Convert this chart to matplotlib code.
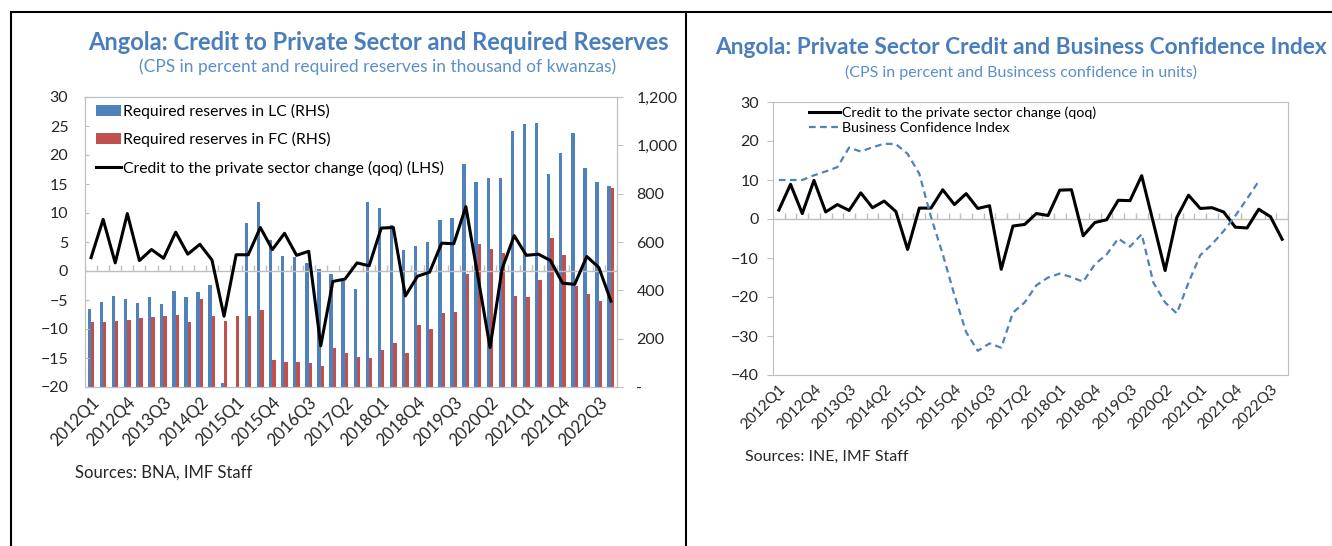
import numpy as np
import matplotlib
matplotlib.use('Agg')
import matplotlib.pyplot as plt
from matplotlib.lines import Line2D
from matplotlib.ticker import FuncFormatter

plt.rcParams['font.family'] = ['Lato', 'DejaVu Sans']

quarters = [f"{y}Q{q}" for y in range(2012, 2023) for q in range(1, 5)]

# required reserves, thousand of kwanzas (RHS)
lc_res = [321, 353, 377, 365, 348, 374, 342, 397, 374, 394, 421, 18, 0, 680, 765,
          607, 543, 540, 513, 488, 466, 440, 404, 767, 739, 670, 567, 583, 600, 692,
          701, 921, 848, 866, 866, 1059, 1087, 1091, 880, 967, 1052, 905, 850, 832]
fc_res = [269, 269, 273, 279, 284, 290, 294, 299, 269, 366, 294, 275, 292, 292, 319,
          110, 105, 105, 101, 87, 160, 139, 124, 121, 152, 181, 142, 255, 240, 308,
          310, 469, 590, 570, 554, 377, 374, 441, 618, 546, 418, 383, 354, 822]

# credit to private sector change qoq, percent
cps = [2.3, 8.9, 1.4, 9.9, 1.8, 3.7, 2.2, 6.7, 2.9, 4.6, 1.9, -7.8, 2.8, 2.8, 7.5,
       3.7, 6.5, 2.7, 3.4, -12.9, -1.8, -1.4, 1.4, 0.9, 7.4, 7.5, -4.3, -0.9, -0.2,
       4.8, 4.7, 11.1, -1.0, -13.2, 0.4, 6.1, 2.7, 2.9, 1.8, -2.1, -2.3, 2.5, 0.6, -5.2]

# business confidence index, units (no data for last two quarters)
bci = [10, 10, 10, 11.2, 12.2, 13.3, 18.3, 17.3, 18.4, 19.3, 19.2, 16.7, 11.6, 0.5,
       -9, -19.5, -29, -33.8, -31.9, -33, -24, -21.4, -17, -15, -14, -14.9, -16.1,
       -11.6, -9.1, -5, -7.1, -3.9, -16.3, -21.4, -24.2, -16.3, -9.3, -6.5, -3.1,
       0.8, 5.2, 9.7, np.nan, np.nan]

blue = '#4F81BD'
red = '#C0504D'
grid_c = '#BFBFBF'
title_c = '#4A7EBB'
sub_c = '#5B8FC9'
txt_c = '#262626'

W, H = 1332, 546
fig = plt.figure(figsize=(W / 100, H / 100), dpi=100)
x = np.arange(len(quarters))
tick_idx = x[::3]


def px(l, t, r, b):
    return [l / W, 1 - b / H, (r - l) / W, (b - t) / H]


# ---------------- left chart ----------------
axr = fig.add_axes(px(85, 97, 617, 387))
axl = axr.twinx()
axr.yaxis.tick_right()
axl.yaxis.tick_left()
axl.yaxis.set_label_position('left')
axl.set_zorder(axr.get_zorder() + 1)
axl.patch.set_visible(False)

b1 = axr.bar(x - 0.15, lc_res, width=0.28, color=blue, label='Required reserves in LC (RHS)')
b2 = axr.bar(x + 0.13, fc_res, width=0.28, color=red, label='Required reserves in FC (RHS)')
axr.set_ylim(0, 1200)
axr.set_yticks(range(0, 1201, 200))
axr.yaxis.set_major_formatter(FuncFormatter(lambda v, p: '-' if v == 0 else f'{int(v):,}'))
axr.set_xlim(-0.5, len(quarters) - 0.5)

l1, = axl.plot(x, cps, color='black', lw=2.2, label='Credit to the private sector change (qoq) (LHS)')
axl.set_ylim(-20, 30)
axl.set_yticks(range(-20, 31, 5))
axl.axhline(0, color=grid_c, lw=1, zorder=1)
axl.vlines(np.arange(-0.5, len(quarters)), 0, 1.0, color=grid_c, lw=1, zorder=1)

for a in (axr, axl):
    for s in a.spines.values():
        s.set_color(grid_c)
    a.tick_params(colors=txt_c, labelsize=11.5)
axr.tick_params(axis='y', direction='out', length=4, color=grid_c, pad=10)
axl.tick_params(axis='y', direction='in', length=3, color=grid_c, pad=12)
axr.set_xticks(tick_idx)
axr.set_xticklabels([quarters[i] for i in tick_idx], rotation=45, ha='right',
                    rotation_mode='anchor', fontsize=12, color=txt_c)
axr.tick_params(axis='x', length=0, pad=5)

axl.legend(handles=[b1, b2, l1], loc='upper left', bbox_to_anchor=(0.0, 1.015),
           frameon=False, fontsize=11.3, handlelength=1.6, handletextpad=0.1,
           labelspacing=0.85, borderaxespad=0.3)

fig.text(378 / W, 1 - 42 / H, 'Angola: Credit to Private Sector and Required Reserves',
         ha='center', va='center', fontsize=17, fontweight='bold', color=title_c)
fig.text(378 / W, 1 - 67 / H, '(CPS in percent and required reserves in thousand of kwanzas)',
         ha='center', va='center', fontsize=12.5, color=sub_c)
fig.text(75 / W, 1 - 473 / H, 'Sources: BNA, IMF Staff', ha='left', va='center',
         fontsize=12, color=txt_c)

# ---------------- right chart ----------------
ax = fig.add_axes(px(773, 102, 1288, 375))
ax.plot(x, cps, color='black', lw=2.2, label='Credit to the private sector change (qoq)')
ax.plot(x, bci, color=blue, lw=1.6, ls=(0, (3, 2)), label='Business Confidence Index')
ax.set_xlim(-0.5, len(quarters) - 0.5)
ax.set_ylim(-40, 30)
ax.set_yticks(range(-40, 31, 10))
ax.axhline(0, color=grid_c, lw=1, zorder=1)
ax.vlines(np.arange(-0.5, len(quarters)), 0, 1.5, color=grid_c, lw=1, zorder=1)
for s in ax.spines.values():
    s.set_color(grid_c)
ax.tick_params(colors=txt_c, labelsize=11.5)
ax.tick_params(axis='y', direction='out', length=4, color=grid_c, pad=6)
ax.set_xticks(tick_idx)
ax.set_xticklabels([quarters[i] for i in tick_idx], rotation=45, ha='right',
                   rotation_mode='anchor', fontsize=11, color=txt_c)
ax.tick_params(axis='x', length=0, pad=5)
ax.legend(loc='upper left', bbox_to_anchor=(0.05, 1.02), frameon=False, fontsize=10.3,
          handlelength=2.2, handletextpad=0.1, labelspacing=0.2, borderaxespad=0.3)

fig.text(1021 / W, 1 - 48 / H, 'Angola: Private Sector Credit and Business Confidence Index',
         ha='center', va='center', fontsize=16.3, fontweight='bold', color=title_c)
fig.text(1021 / W, 1 - 72 / H, '(CPS in percent and Busincess confidence in units)',
         ha='center', va='center', fontsize=11.5, color=sub_c)
fig.text(745 / W, 1 - 457 / H, 'Sources: INE, IMF Staff', ha='left', va='center',
         fontsize=11.5, color=txt_c)

# panel borders
top = 1 - 12 / H
for xs, ys in [([11 / W, 1], [top, top]), ([11 / W, 11 / W], [0, top]),
               ([686 / W, 686 / W], [0, top])]:
    fig.add_artist(Line2D(xs, ys, transform=fig.transFigure, color='black', lw=1.5))

fig.savefig('out.png', dpi=100)
